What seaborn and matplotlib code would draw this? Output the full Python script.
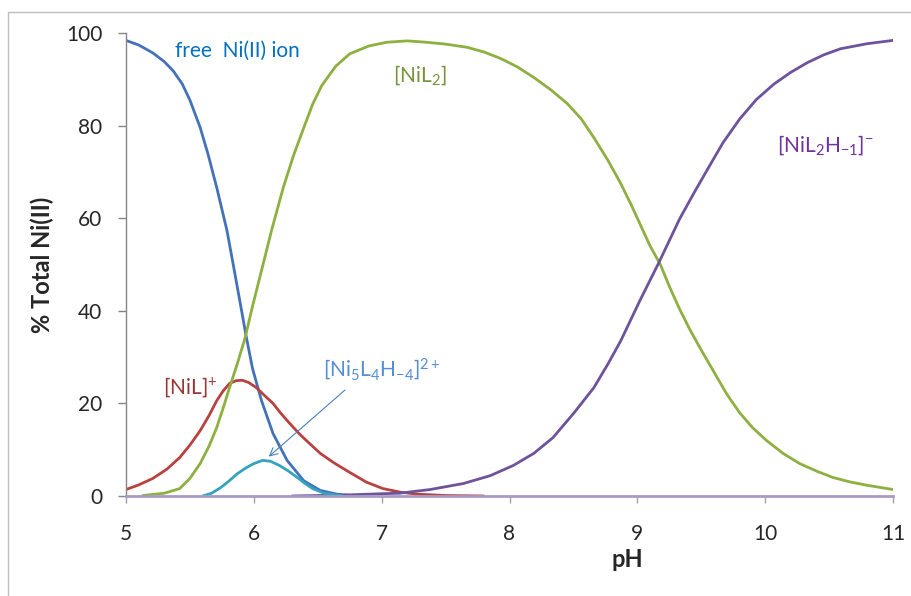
import matplotlib
matplotlib.use("Agg")
import matplotlib.pyplot as plt
from matplotlib.patches import Rectangle
import seaborn as sns

sns.set_theme(style="white")
plt.rcParams['font.family'] = ['Lato', 'DejaVu Sans']
plt.rcParams['mathtext.fontset'] = 'custom'
plt.rcParams['mathtext.rm'] = 'Lato'
plt.rcParams['mathtext.it'] = 'Lato:italic'
plt.rcParams['mathtext.bf'] = 'Lato:bold'

# species distribution, % of total Ni(II) vs pH
ph_free = [5.0, 5.1, 5.21, 5.3, 5.37, 5.44, 5.5, 5.58, 5.64, 5.71, 5.79, 5.84,
           5.89, 5.94, 5.99, 6.06, 6.15, 6.26, 6.39, 6.52, 6.65, 6.8]
free_ni = [98.4, 97.4, 95.7, 93.8, 91.8, 89.0, 85.5, 79.6, 74.0, 66.6, 57.3, 49.8,
           42.2, 34.5, 27.5, 20.6, 13.5, 7.7, 3.3, 1.2, 0.4, 0.0]

ph_nil = [5.0, 5.1, 5.21, 5.32, 5.42, 5.5, 5.58, 5.65, 5.71, 5.76, 5.81, 5.86, 5.91,
          5.96, 6.02, 6.08, 6.15, 6.21, 6.28, 6.35, 6.41, 6.52, 6.63, 6.75, 6.88,
          7.01, 7.15, 7.28, 7.5, 7.8]
nil = [1.4, 2.4, 3.8, 5.8, 8.3, 11.0, 14.1, 17.4, 20.6, 22.7, 24.3, 24.9, 25.0,
       24.5, 23.4, 21.8, 20.0, 17.9, 15.7, 13.6, 12.0, 9.2, 7.1, 5.1, 3.0,
       1.6, 0.8, 0.4, 0.1, 0.0]

ph_nil2 = [5.13, 5.3, 5.42, 5.5, 5.58, 5.65, 5.71, 5.76, 5.81, 5.87, 5.93, 5.99,
           6.06, 6.14, 6.23, 6.31, 6.39, 6.46, 6.53, 6.64, 6.75, 6.9, 7.04, 7.2,
           7.35, 7.5, 7.67, 7.8, 7.93, 8.06, 8.19, 8.32, 8.45, 8.56, 8.66, 8.77,
           8.87, 8.95, 9.02, 9.1, 9.18, 9.25, 9.33, 9.41, 9.49, 9.62, 9.7, 9.8,
           9.9, 10.01, 10.14, 10.27, 10.4, 10.53, 10.67, 10.8, 11.0]
nil2 = [0.1, 0.6, 1.6, 3.8, 7.0, 10.8, 14.8, 19.0, 23.4, 28.5, 34.0, 41.0,
        48.7, 57.5, 66.6, 73.5, 79.5, 84.6, 88.6, 92.8, 95.5, 97.2, 98.0, 98.3,
        98.0, 97.6, 96.9, 95.9, 94.5, 92.7, 90.4, 87.8, 84.8, 81.5, 77.4, 72.5,
        67.5, 63.0, 58.8, 54.0, 50.0, 45.3, 40.4, 36.0, 32.0, 25.8, 22.0, 18.0,
        14.8, 12.0, 9.2, 7.0, 5.4, 4.0, 3.0, 2.3, 1.4]

ph_nil2h = [6.3, 6.7, 7.01, 7.14, 7.38, 7.64, 7.85, 8.03, 8.19, 8.34, 8.5, 8.66,
            8.77, 8.87, 9.02, 9.17, 9.33, 9.44, 9.55, 9.67, 9.8, 9.93, 10.07,
            10.2, 10.33, 10.46, 10.59, 10.8, 11.0]
nil2h = [0.0, 0.2, 0.5, 0.6, 1.4, 2.7, 4.4, 6.6, 9.2, 12.6, 17.8, 23.4,
         28.5, 33.5, 42.2, 50.5, 59.8, 65.3, 70.6, 76.3, 81.4, 85.6, 89.0,
         91.5, 93.6, 95.3, 96.6, 97.7, 98.4]

ph_ni5 = [5.6, 5.67, 5.74, 5.8, 5.87, 5.94, 6.0, 6.07, 6.13, 6.2, 6.27, 6.34,
          6.4, 6.46, 6.55, 6.7]
ni5 = [0.0, 0.6, 1.8, 3.1, 4.8, 6.1, 7.0, 7.7, 7.5, 6.6, 5.4, 4.0,
       2.7, 1.6, 0.6, 0.0]

fig = plt.figure(figsize=(9.11, 5.96), dpi=100)
ax = fig.add_axes([126 / 911, 1 - 496 / 596, 767 / 911, 463 / 596])

lw = 2.0
line_kw = dict(linewidth=lw, ax=ax, solid_joinstyle='round', solid_capstyle='round')
sns.lineplot(x=ph_free, y=free_ni, color='#4372B8', **line_kw)
sns.lineplot(x=ph_nil, y=nil, color='#B8423F', **line_kw)
sns.lineplot(x=ph_nil2, y=nil2, color='#8DB040', **line_kw)
sns.lineplot(x=ph_nil2h, y=nil2h, color='#6E529C', **line_kw)
sns.lineplot(x=ph_ni5, y=ni5, color='#33A3BE', **line_kw)

ax.set_xlim(5, 11)
ax.set_ylim(0, 100)
ax.set_xticks(range(5, 12))
ax.set_yticks(range(0, 101, 20))

for side in ['top', 'right']:
    ax.spines[side].set_visible(False)
ax.spines['left'].set_color('#868686')
ax.spines['left'].set_linewidth(1)
ax.spines['bottom'].set_color('#A99BC8')
ax.spines['bottom'].set_linewidth(2)

ax.tick_params(axis='y', direction='out', length=6, width=1, color='#868686',
               pad=11, labelsize=15, left=True)
ax.tick_params(axis='x', direction='out', length=5, width=1, color='#A0A0A0',
               pad=15, labelsize=15, bottom=True)

ax.set_xlabel('pH', fontsize=17, fontweight='bold')
ax.set_ylabel('% Total Ni(II)', fontsize=17, fontweight='bold')
ax.xaxis.set_label_coords(0.653, -0.112)
ax.yaxis.set_label_coords(-0.094, 0.5)

# species labels
lab = 15
ax.text(5.384, 96.2, 'free  Ni(II) ion', color='#0070C0', fontsize=lab,
        ha='left', va='center')
ax.text(7.09, 90.8, '[NiL$_2$]', color='#77933C', fontsize=lab,
        ha='left', va='center')
ax.text(10.09, 75.7, '[NiL$_2$H$_{-1}$]$^{-}$', color='#7030A0', fontsize=lab,
        ha='left', va='center')
ax.text(5.29, 23.4, '[NiL]$^{+}$', color='#953735', fontsize=lab,
        ha='left', va='center')
ax.text(6.54, 27.5, '[Ni$_5$L$_4$H$_{-4}$]$^{2+}$', color='#558ED5', fontsize=lab,
        ha='left', va='center')
ax.annotate('', xy=(6.10, 8.1), xytext=(6.73, 23.3),
            arrowprops=dict(arrowstyle='->', color='#4A7EBB', lw=0.8,
                            mutation_scale=14))

# outer chart border (partly cropped in the original)
fig.add_artist(Rectangle((8 / 911, -0.05), 1.0, 1 - 12 / 596 + 0.05,
                         transform=fig.transFigure, fill=False,
                         edgecolor='#BFBFBF', linewidth=1))

fig.savefig('out.png', dpi=100)
